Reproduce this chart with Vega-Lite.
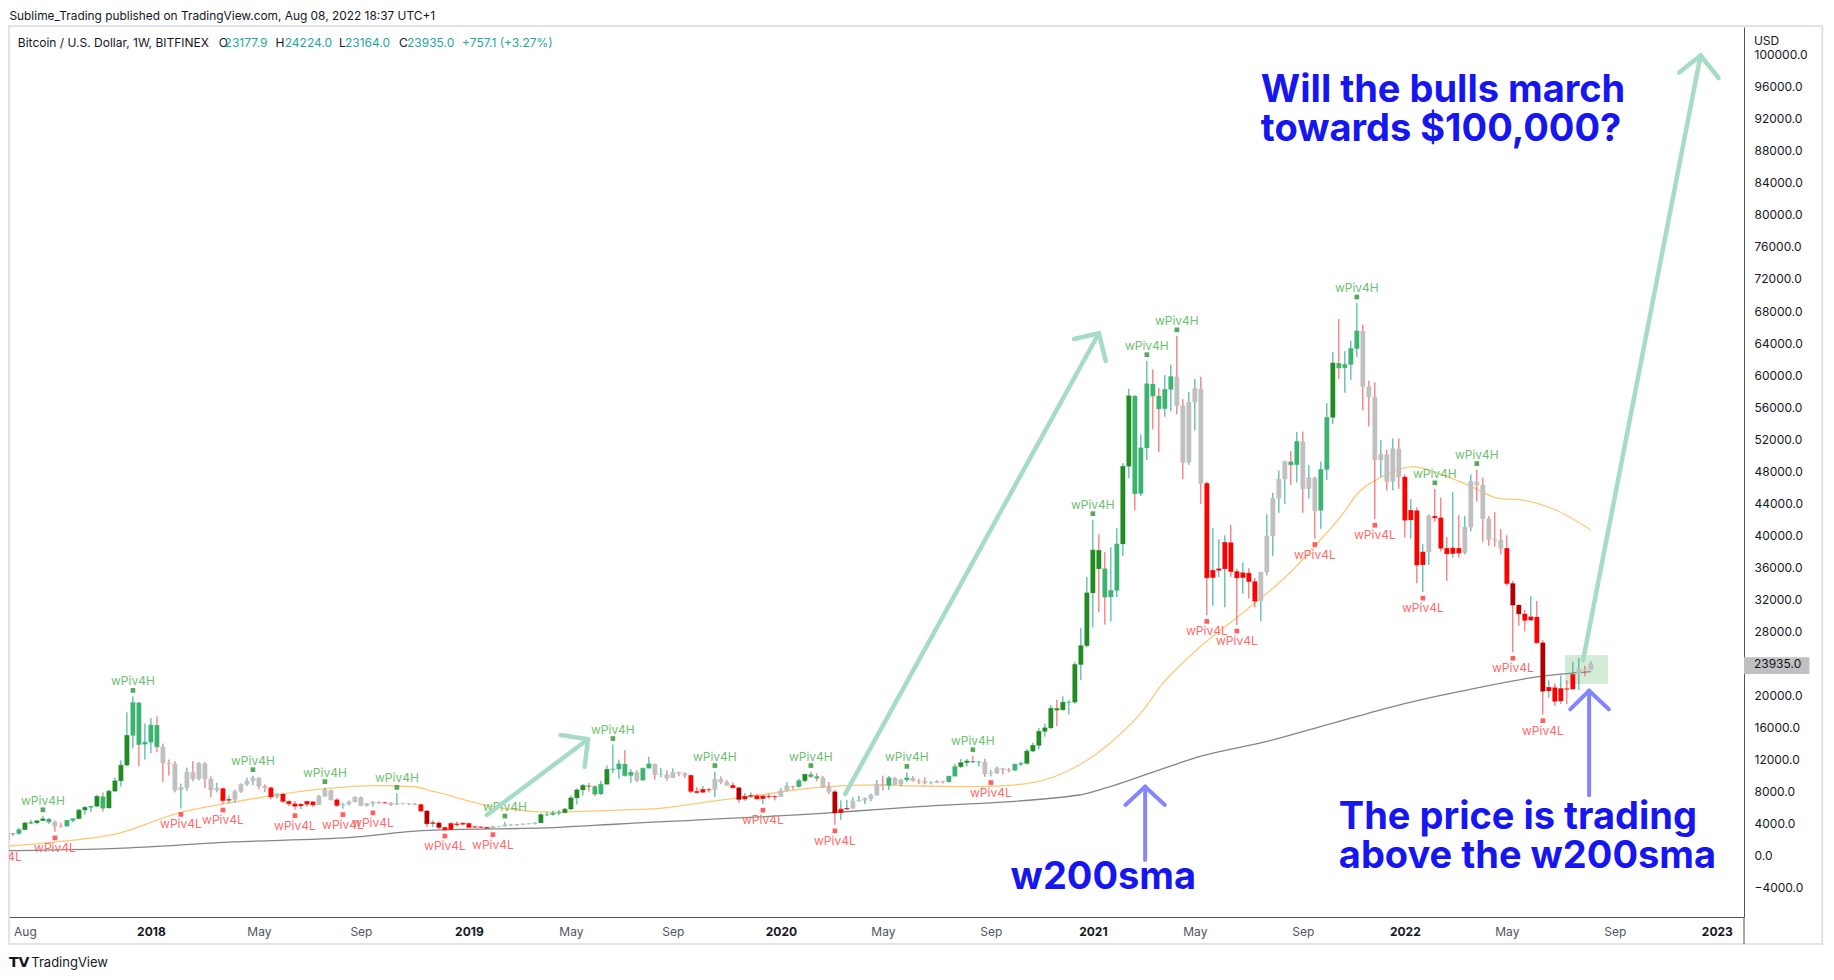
{
"$schema":"https://vega.github.io/schema/vega-lite/v6.json",
"width":1735,"height":890,"autosize":"none",
"padding":{"left":9,"top":27,"right":90,"bottom":63},
"background":"#ffffff",
"config":{"view":{"stroke":null},"font":"Inter"},
"datasets":{
"candles":[
{"d":"2017-07-10","o":2500,"h":2550,"l":1830,"c":1930,"t":"r","p":"L"},
{"d":"2017-07-17","o":1930,"h":2920,"l":1900,"c":2750,"t":"g"},
{"d":"2017-07-24","o":2750,"h":2840,"l":2450,"c":2740,"t":"g"},
{"d":"2017-07-31","o":2740,"h":3490,"l":2620,"c":3230,"t":"g"},
{"d":"2017-08-07","o":3230,"h":4200,"l":3200,"c":4070,"t":"sg"},
{"d":"2017-08-14","o":4070,"h":4480,"l":3960,"c":4100,"t":"sg"},
{"d":"2017-08-21","o":4100,"h":4380,"l":3900,"c":4350,"t":"sg"},
{"d":"2017-08-28","o":4350,"h":4980,"l":4300,"c":4590,"t":"sg","p":"H"},
{"d":"2017-09-04","o":4590,"h":4700,"l":3960,"c":4230,"t":"g"},
{"d":"2017-09-11","o":4230,"h":4400,"l":2970,"c":3700,"t":"n","p":"L"},
{"d":"2017-09-18","o":3700,"h":4120,"l":3500,"c":3670,"t":"n"},
{"d":"2017-09-25","o":3670,"h":4400,"l":3650,"c":4390,"t":"g"},
{"d":"2017-10-02","o":4390,"h":4650,"l":4150,"c":4610,"t":"g"},
{"d":"2017-10-09","o":4610,"h":5860,"l":4560,"c":5680,"t":"sg"},
{"d":"2017-10-16","o":5680,"h":6200,"l":5110,"c":6010,"t":"sg"},
{"d":"2017-10-23","o":6010,"h":6200,"l":5400,"c":6150,"t":"g"},
{"d":"2017-10-30","o":6150,"h":7600,"l":6100,"c":7390,"t":"sg"},
{"d":"2017-11-06","o":7390,"h":7900,"l":5500,"c":5950,"t":"g"},
{"d":"2017-11-13","o":5950,"h":8250,"l":5850,"c":8040,"t":"sg"},
{"d":"2017-11-20","o":8040,"h":9750,"l":7950,"c":9330,"t":"sg"},
{"d":"2017-11-27","o":9330,"h":11900,"l":8650,"c":11290,"t":"sg"},
{"d":"2017-12-04","o":11290,"h":17900,"l":11150,"c":15000,"t":"sg"},
{"d":"2017-12-11","o":15000,"h":19890,"l":13400,"c":19100,"t":"g","p":"H"},
{"d":"2017-12-18","o":19100,"h":19200,"l":11150,"c":13900,"t":"g"},
{"d":"2017-12-25","o":13900,"h":16500,"l":12000,"c":14150,"t":"g"},
{"d":"2018-01-01","o":14150,"h":17200,"l":12800,"c":16300,"t":"g"},
{"d":"2018-01-08","o":16300,"h":17400,"l":12900,"c":13600,"t":"g"},
{"d":"2018-01-15","o":13600,"h":14000,"l":9200,"c":11600,"t":"n"},
{"d":"2018-01-22","o":11600,"h":12000,"l":10000,"c":11500,"t":"n"},
{"d":"2018-01-29","o":11500,"h":11800,"l":7900,"c":8200,"t":"n"},
{"d":"2018-02-05","o":8200,"h":9000,"l":5900,"c":8500,"t":"n","p":"L"},
{"d":"2018-02-12","o":8500,"h":11000,"l":8100,"c":10400,"t":"n"},
{"d":"2018-02-19","o":10400,"h":11800,"l":9300,"c":9600,"t":"n"},
{"d":"2018-02-26","o":9600,"h":11700,"l":9400,"c":11500,"t":"n"},
{"d":"2018-03-05","o":11500,"h":11700,"l":8400,"c":9600,"t":"n"},
{"d":"2018-03-12","o":9600,"h":9900,"l":7300,"c":8200,"t":"n"},
{"d":"2018-03-19","o":8200,"h":9100,"l":7900,"c":8400,"t":"n"},
{"d":"2018-03-26","o":8400,"h":8500,"l":6450,"c":6900,"t":"r","p":"L"},
{"d":"2018-04-02","o":6900,"h":7500,"l":6500,"c":7000,"t":"r"},
{"d":"2018-04-09","o":7000,"h":8250,"l":6600,"c":8000,"t":"n"},
{"d":"2018-04-16","o":8000,"h":9000,"l":7850,"c":8900,"t":"n"},
{"d":"2018-04-23","o":8900,"h":9750,"l":8700,"c":9300,"t":"n"},
{"d":"2018-04-30","o":9300,"h":9990,"l":8800,"c":9700,"t":"n","p":"H"},
{"d":"2018-05-07","o":9700,"h":9800,"l":8300,"c":8700,"t":"n"},
{"d":"2018-05-14","o":8700,"h":8900,"l":7950,"c":8500,"t":"n"},
{"d":"2018-05-21","o":8500,"h":8600,"l":7050,"c":7350,"t":"r"},
{"d":"2018-05-28","o":7350,"h":7800,"l":7100,"c":7700,"t":"n"},
{"d":"2018-06-04","o":7700,"h":7800,"l":6600,"c":6800,"t":"r"},
{"d":"2018-06-11","o":6800,"h":6900,"l":6200,"c":6500,"t":"r"},
{"d":"2018-06-18","o":6500,"h":6850,"l":5750,"c":6200,"t":"r","p":"L"},
{"d":"2018-06-25","o":6200,"h":6550,"l":5800,"c":6400,"t":"r"},
{"d":"2018-07-02","o":6400,"h":6850,"l":6100,"c":6750,"t":"r"},
{"d":"2018-07-09","o":6750,"h":6800,"l":6100,"c":6350,"t":"r"},
{"d":"2018-07-16","o":6350,"h":7600,"l":6300,"c":7400,"t":"n"},
{"d":"2018-07-23","o":7400,"h":8500,"l":7350,"c":8200,"t":"n","p":"H"},
{"d":"2018-07-30","o":8200,"h":8250,"l":6900,"c":7000,"t":"n"},
{"d":"2018-08-06","o":7000,"h":7150,"l":6100,"c":6300,"t":"r"},
{"d":"2018-08-13","o":6300,"h":6600,"l":5880,"c":6400,"t":"n","p":"L"},
{"d":"2018-08-20","o":6400,"h":6900,"l":6250,"c":6700,"t":"n"},
{"d":"2018-08-27","o":6700,"h":7400,"l":6650,"c":7300,"t":"n"},
{"d":"2018-09-03","o":7300,"h":7400,"l":6200,"c":6250,"t":"n"},
{"d":"2018-09-10","o":6250,"h":6600,"l":6150,"c":6500,"t":"n"},
{"d":"2018-09-17","o":6500,"h":6800,"l":6100,"c":6700,"t":"n","p":"L"},
{"d":"2018-09-24","o":6700,"h":6800,"l":6450,"c":6620,"t":"n"},
{"d":"2018-10-01","o":6620,"h":6700,"l":6500,"c":6600,"t":"r"},
{"d":"2018-10-08","o":6600,"h":6700,"l":6200,"c":6400,"t":"n"},
{"d":"2018-10-15","o":6400,"h":7780,"l":6300,"c":6500,"t":"n","p":"H"},
{"d":"2018-10-22","o":6500,"h":6600,"l":6400,"c":6500,"t":"n"},
{"d":"2018-10-29","o":6500,"h":6550,"l":6300,"c":6450,"t":"n"},
{"d":"2018-11-05","o":6450,"h":6600,"l":6300,"c":6400,"t":"n"},
{"d":"2018-11-12","o":6400,"h":6500,"l":5500,"c":5600,"t":"r"},
{"d":"2018-11-19","o":5600,"h":5700,"l":3600,"c":4000,"t":"sr"},
{"d":"2018-11-26","o":4000,"h":4400,"l":3600,"c":4100,"t":"r"},
{"d":"2018-12-03","o":4100,"h":4300,"l":3300,"c":3550,"t":"sr"},
{"d":"2018-12-10","o":3550,"h":3600,"l":3200,"c":3250,"t":"r","p":"L"},
{"d":"2018-12-17","o":3250,"h":4200,"l":3250,"c":4000,"t":"r"},
{"d":"2018-12-24","o":4000,"h":4250,"l":3650,"c":3900,"t":"r"},
{"d":"2018-12-31","o":3900,"h":4150,"l":3750,"c":4050,"t":"r"},
{"d":"2019-01-07","o":4050,"h":4100,"l":3500,"c":3550,"t":"r"},
{"d":"2019-01-14","o":3550,"h":3700,"l":3500,"c":3600,"t":"r"},
{"d":"2019-01-21","o":3600,"h":3650,"l":3500,"c":3550,"t":"r"},
{"d":"2019-01-28","o":3550,"h":3600,"l":3400,"c":3450,"t":"r"},
{"d":"2019-02-04","o":3450,"h":3700,"l":3380,"c":3650,"t":"n","p":"L"},
{"d":"2019-02-11","o":3650,"h":3700,"l":3550,"c":3650,"t":"n"},
{"d":"2019-02-18","o":3650,"h":4200,"l":3650,"c":3850,"t":"n","p":"H"},
{"d":"2019-02-25","o":3850,"h":3950,"l":3700,"c":3850,"t":"n"},
{"d":"2019-03-04","o":3850,"h":3950,"l":3700,"c":3900,"t":"n"},
{"d":"2019-03-11","o":3900,"h":4000,"l":3800,"c":3950,"t":"n"},
{"d":"2019-03-18","o":3950,"h":4100,"l":3900,"c":4000,"t":"n"},
{"d":"2019-03-25","o":4000,"h":4150,"l":3900,"c":4100,"t":"n"},
{"d":"2019-04-01","o":4100,"h":5300,"l":4100,"c":5100,"t":"sg"},
{"d":"2019-04-08","o":5100,"h":5450,"l":4950,"c":5100,"t":"g"},
{"d":"2019-04-15","o":5100,"h":5600,"l":5000,"c":5300,"t":"g"},
{"d":"2019-04-22","o":5300,"h":5700,"l":5050,"c":5350,"t":"g"},
{"d":"2019-04-29","o":5350,"h":5950,"l":5350,"c":5800,"t":"sg"},
{"d":"2019-05-06","o":5800,"h":7500,"l":5700,"c":7200,"t":"sg"},
{"d":"2019-05-13","o":7200,"h":8400,"l":6400,"c":8200,"t":"sg"},
{"d":"2019-05-20","o":8200,"h":8950,"l":7500,"c":8750,"t":"sg"},
{"d":"2019-05-27","o":8750,"h":9100,"l":8000,"c":8650,"t":"g"},
{"d":"2019-06-03","o":8650,"h":8800,"l":7450,"c":7700,"t":"g"},
{"d":"2019-06-10","o":7700,"h":9350,"l":7550,"c":8900,"t":"g"},
{"d":"2019-06-17","o":8900,"h":11250,"l":8900,"c":10750,"t":"sg"},
{"d":"2019-06-24","o":10750,"h":13880,"l":10300,"c":10800,"t":"g","p":"H"},
{"d":"2019-07-01","o":10800,"h":12000,"l":9600,"c":11450,"t":"g"},
{"d":"2019-07-08","o":11450,"h":13200,"l":9900,"c":10000,"t":"g"},
{"d":"2019-07-15","o":10000,"h":10800,"l":9100,"c":10400,"t":"g"},
{"d":"2019-07-22","o":10400,"h":10650,"l":9200,"c":9400,"t":"n"},
{"d":"2019-07-29","o":9400,"h":11000,"l":9400,"c":10900,"t":"g"},
{"d":"2019-08-05","o":10900,"h":12350,"l":10900,"c":11450,"t":"g"},
{"d":"2019-08-12","o":11450,"h":11500,"l":9500,"c":10150,"t":"n"},
{"d":"2019-08-19","o":10150,"h":10950,"l":9800,"c":10150,"t":"n"},
{"d":"2019-08-26","o":10150,"h":10650,"l":9350,"c":9700,"t":"n"},
{"d":"2019-09-02","o":9700,"h":10900,"l":9700,"c":10400,"t":"n"},
{"d":"2019-09-09","o":10400,"h":10500,"l":9900,"c":10300,"t":"n"},
{"d":"2019-09-16","o":10300,"h":10400,"l":9700,"c":10050,"t":"n"},
{"d":"2019-09-23","o":10050,"h":10100,"l":7800,"c":8050,"t":"r"},
{"d":"2019-09-30","o":8050,"h":8550,"l":7750,"c":7900,"t":"r"},
{"d":"2019-10-07","o":7900,"h":8700,"l":7800,"c":8250,"t":"r"},
{"d":"2019-10-14","o":8250,"h":8450,"l":7900,"c":8230,"t":"r"},
{"d":"2019-10-21","o":8230,"h":10500,"l":7300,"c":9550,"t":"n","p":"H"},
{"d":"2019-10-28","o":9550,"h":9900,"l":8950,"c":9200,"t":"n"},
{"d":"2019-11-04","o":9200,"h":9450,"l":8700,"c":8800,"t":"n"},
{"d":"2019-11-11","o":8800,"h":9150,"l":8400,"c":8500,"t":"r"},
{"d":"2019-11-18","o":8500,"h":8600,"l":6600,"c":7050,"t":"sr"},
{"d":"2019-11-25","o":7050,"h":7800,"l":6850,"c":7400,"t":"r"},
{"d":"2019-12-02","o":7400,"h":7900,"l":7200,"c":7500,"t":"r"},
{"d":"2019-12-09","o":7500,"h":7650,"l":7050,"c":7100,"t":"r"},
{"d":"2019-12-16","o":7100,"h":7500,"l":6430,"c":7450,"t":"r","p":"L"},
{"d":"2019-12-23","o":7450,"h":7700,"l":7100,"c":7400,"t":"r"},
{"d":"2019-12-30","o":7400,"h":7550,"l":6900,"c":7350,"t":"r"},
{"d":"2020-01-06","o":7350,"h":8450,"l":7350,"c":8100,"t":"n"},
{"d":"2020-01-13","o":8100,"h":9200,"l":8050,"c":8700,"t":"n"},
{"d":"2020-01-20","o":8700,"h":8750,"l":8250,"c":8600,"t":"n"},
{"d":"2020-01-27","o":8600,"h":9600,"l":8500,"c":9350,"t":"g"},
{"d":"2020-02-03","o":9350,"h":10200,"l":9150,"c":10150,"t":"sg"},
{"d":"2020-02-10","o":10150,"h":10500,"l":9700,"c":9900,"t":"g","p":"H"},
{"d":"2020-02-17","o":9900,"h":10300,"l":9300,"c":9700,"t":"g"},
{"d":"2020-02-24","o":9700,"h":9950,"l":8450,"c":8550,"t":"n"},
{"d":"2020-03-02","o":8550,"h":9200,"l":7700,"c":8000,"t":"n"},
{"d":"2020-03-09","o":8000,"h":8200,"l":3850,"c":5350,"t":"sr","p":"L"},
{"d":"2020-03-16","o":5350,"h":6900,"l":4450,"c":5800,"t":"r"},
{"d":"2020-03-23","o":5800,"h":6950,"l":5700,"c":5900,"t":"r"},
{"d":"2020-03-30","o":5900,"h":7300,"l":5850,"c":6800,"t":"n"},
{"d":"2020-04-06","o":6800,"h":7450,"l":6750,"c":6900,"t":"n"},
{"d":"2020-04-13","o":6900,"h":7300,"l":6450,"c":7100,"t":"n"},
{"d":"2020-04-20","o":7100,"h":7750,"l":6800,"c":7550,"t":"n"},
{"d":"2020-04-27","o":7550,"h":9450,"l":7500,"c":8900,"t":"n"},
{"d":"2020-05-04","o":8900,"h":10000,"l":8150,"c":8750,"t":"n"},
{"d":"2020-05-11","o":8750,"h":9950,"l":8200,"c":9700,"t":"g"},
{"d":"2020-05-18","o":9700,"h":9850,"l":8850,"c":8900,"t":"n"},
{"d":"2020-05-25","o":8900,"h":9600,"l":8650,"c":9450,"t":"n"},
{"d":"2020-06-01","o":9450,"h":10400,"l":9200,"c":9700,"t":"g","p":"H"},
{"d":"2020-06-08","o":9700,"h":9950,"l":9250,"c":9350,"t":"n"},
{"d":"2020-06-15","o":9350,"h":9600,"l":8950,"c":9300,"t":"n"},
{"d":"2020-06-22","o":9300,"h":9800,"l":8900,"c":9100,"t":"n"},
{"d":"2020-06-29","o":9100,"h":9300,"l":8900,"c":9100,"t":"n"},
{"d":"2020-07-06","o":9100,"h":9450,"l":9050,"c":9250,"t":"n"},
{"d":"2020-07-13","o":9250,"h":9350,"l":9000,"c":9200,"t":"n"},
{"d":"2020-07-20","o":9200,"h":10000,"l":9150,"c":9900,"t":"g"},
{"d":"2020-07-27","o":9900,"h":11450,"l":9900,"c":11100,"t":"g"},
{"d":"2020-08-03","o":11100,"h":12100,"l":10950,"c":11600,"t":"sg"},
{"d":"2020-08-10","o":11600,"h":12100,"l":11150,"c":11800,"t":"sg"},
{"d":"2020-08-17","o":11800,"h":12480,"l":11600,"c":11700,"t":"g","p":"H"},
{"d":"2020-08-24","o":11700,"h":11800,"l":11150,"c":11700,"t":"g"},
{"d":"2020-08-31","o":11700,"h":12100,"l":9850,"c":10250,"t":"n"},
{"d":"2020-09-07","o":10250,"h":10700,"l":9880,"c":10300,"t":"n","p":"L"},
{"d":"2020-09-14","o":10300,"h":11150,"l":10200,"c":10900,"t":"n"},
{"d":"2020-09-21","o":10900,"h":10950,"l":10150,"c":10750,"t":"n"},
{"d":"2020-09-28","o":10750,"h":10950,"l":10400,"c":10650,"t":"n"},
{"d":"2020-10-05","o":10650,"h":11500,"l":10550,"c":11400,"t":"g"},
{"d":"2020-10-12","o":11400,"h":11750,"l":11200,"c":11500,"t":"g"},
{"d":"2020-10-19","o":11500,"h":13300,"l":11400,"c":13050,"t":"sg"},
{"d":"2020-10-26","o":13050,"h":14100,"l":12950,"c":13750,"t":"sg"},
{"d":"2020-11-02","o":13750,"h":15950,"l":13250,"c":15500,"t":"sg"},
{"d":"2020-11-09","o":15500,"h":16500,"l":14850,"c":15950,"t":"sg"},
{"d":"2020-11-16","o":15950,"h":18800,"l":15800,"c":18400,"t":"sg"},
{"d":"2020-11-23","o":18400,"h":19450,"l":16200,"c":18200,"t":"sg"},
{"d":"2020-11-30","o":18200,"h":19900,"l":18100,"c":19150,"t":"sg"},
{"d":"2020-12-07","o":19150,"h":19450,"l":17600,"c":19150,"t":"g"},
{"d":"2020-12-14","o":19150,"h":24200,"l":19000,"c":23850,"t":"sg"},
{"d":"2020-12-21","o":23850,"h":28400,"l":21900,"c":26200,"t":"sg"},
{"d":"2020-12-28","o":26200,"h":34800,"l":26000,"c":32800,"t":"sg"},
{"d":"2021-01-04","o":32800,"h":41950,"l":28500,"c":38150,"t":"sg","p":"H"},
{"d":"2021-01-11","o":38150,"h":40100,"l":30400,"c":35850,"t":"sg"},
{"d":"2021-01-18","o":35850,"h":37900,"l":28850,"c":32300,"t":"g"},
{"d":"2021-01-25","o":32300,"h":38500,"l":29250,"c":33100,"t":"g"},
{"d":"2021-02-01","o":33100,"h":40900,"l":32300,"c":38900,"t":"g"},
{"d":"2021-02-08","o":38900,"h":49000,"l":37400,"c":48600,"t":"sg"},
{"d":"2021-02-15","o":48600,"h":58300,"l":47100,"c":57400,"t":"sg"},
{"d":"2021-02-22","o":57400,"h":57500,"l":43100,"c":45200,"t":"g"},
{"d":"2021-03-01","o":45200,"h":52600,"l":44900,"c":50900,"t":"g"},
{"d":"2021-03-08","o":50900,"h":61800,"l":49400,"c":58900,"t":"g","p":"H"},
{"d":"2021-03-15","o":58900,"h":60700,"l":53200,"c":57400,"t":"g"},
{"d":"2021-03-22","o":57400,"h":58400,"l":50400,"c":55800,"t":"g"},
{"d":"2021-03-29","o":55800,"h":60000,"l":54800,"c":58200,"t":"g"},
{"d":"2021-04-05","o":58200,"h":61300,"l":55500,"c":59800,"t":"g"},
{"d":"2021-04-12","o":59800,"h":64900,"l":55100,"c":56200,"t":"n","p":"H"},
{"d":"2021-04-19","o":56200,"h":57000,"l":47000,"c":49100,"t":"n"},
{"d":"2021-04-26","o":49100,"h":57900,"l":48800,"c":56600,"t":"n"},
{"d":"2021-05-03","o":56600,"h":59500,"l":53100,"c":58300,"t":"n"},
{"d":"2021-05-10","o":58300,"h":59800,"l":43900,"c":46500,"t":"n"},
{"d":"2021-05-17","o":46500,"h":46700,"l":30000,"c":34700,"t":"r","p":"L"},
{"d":"2021-05-24","o":34700,"h":40900,"l":31200,"c":35600,"t":"r"},
{"d":"2021-05-31","o":35600,"h":39500,"l":34800,"c":35800,"t":"r"},
{"d":"2021-06-07","o":35800,"h":40000,"l":31000,"c":39100,"t":"r"},
{"d":"2021-06-14","o":39100,"h":41300,"l":34800,"c":35500,"t":"r"},
{"d":"2021-06-21","o":35500,"h":35800,"l":28800,"c":34700,"t":"r","p":"L"},
{"d":"2021-06-28","o":34700,"h":36600,"l":32700,"c":35300,"t":"r"},
{"d":"2021-07-05","o":35300,"h":35900,"l":32100,"c":34250,"t":"r"},
{"d":"2021-07-12","o":34250,"h":34700,"l":31000,"c":31800,"t":"r"},
{"d":"2021-07-19","o":31800,"h":35400,"l":29300,"c":35400,"t":"n"},
{"d":"2021-07-26","o":35400,"h":42600,"l":35000,"c":39900,"t":"n"},
{"d":"2021-08-02","o":39900,"h":45300,"l":37400,"c":44600,"t":"n"},
{"d":"2021-08-09","o":44600,"h":48100,"l":42800,"c":47000,"t":"n"},
{"d":"2021-08-16","o":47000,"h":49300,"l":43900,"c":49200,"t":"n"},
{"d":"2021-08-23","o":49200,"h":50500,"l":46300,"c":48800,"t":"g"},
{"d":"2021-08-30","o":48800,"h":52900,"l":46600,"c":51700,"t":"g"},
{"d":"2021-09-06","o":51700,"h":52950,"l":42800,"c":45800,"t":"n"},
{"d":"2021-09-13","o":45800,"h":48800,"l":44600,"c":47200,"t":"n"},
{"d":"2021-09-20","o":47200,"h":47300,"l":39600,"c":43100,"t":"n","p":"L"},
{"d":"2021-09-27","o":43100,"h":49200,"l":40800,"c":48200,"t":"g"},
{"d":"2021-10-04","o":48200,"h":56500,"l":46900,"c":54700,"t":"g"},
{"d":"2021-10-11","o":54700,"h":62900,"l":53900,"c":61500,"t":"sg"},
{"d":"2021-10-18","o":61500,"h":67000,"l":59500,"c":60900,"t":"g"},
{"d":"2021-10-25","o":60900,"h":63000,"l":57800,"c":61300,"t":"g"},
{"d":"2021-11-01","o":61300,"h":64300,"l":59400,"c":63300,"t":"g"},
{"d":"2021-11-08","o":63300,"h":69000,"l":62300,"c":65500,"t":"g","p":"H"},
{"d":"2021-11-15","o":65500,"h":66300,"l":55600,"c":58600,"t":"n"},
{"d":"2021-11-22","o":58600,"h":59300,"l":53600,"c":57300,"t":"n"},
{"d":"2021-11-29","o":57300,"h":59100,"l":42000,"c":49400,"t":"n","p":"L"},
{"d":"2021-12-06","o":49400,"h":51900,"l":47300,"c":50100,"t":"n"},
{"d":"2021-12-13","o":50100,"h":50700,"l":45600,"c":46700,"t":"n"},
{"d":"2021-12-20","o":46700,"h":52100,"l":45600,"c":50800,"t":"n"},
{"d":"2021-12-27","o":50800,"h":52100,"l":45800,"c":47300,"t":"n"},
{"d":"2022-01-03","o":47300,"h":47600,"l":39700,"c":41900,"t":"r"},
{"d":"2022-01-10","o":41900,"h":44500,"l":39600,"c":43100,"t":"r"},
{"d":"2022-01-17","o":43100,"h":43500,"l":34000,"c":36300,"t":"r"},
{"d":"2022-01-24","o":36300,"h":38900,"l":32900,"c":37900,"t":"r","p":"L"},
{"d":"2022-01-31","o":37900,"h":42600,"l":36300,"c":42400,"t":"n"},
{"d":"2022-02-07","o":42400,"h":45800,"l":41700,"c":42200,"t":"r","p":"H"},
{"d":"2022-02-14","o":42200,"h":44700,"l":38000,"c":38400,"t":"r"},
{"d":"2022-02-21","o":38400,"h":39800,"l":34300,"c":37700,"t":"r"},
{"d":"2022-02-28","o":37700,"h":45400,"l":37200,"c":38400,"t":"r"},
{"d":"2022-03-07","o":38400,"h":42500,"l":37200,"c":37800,"t":"r"},
{"d":"2022-03-14","o":37800,"h":42400,"l":37600,"c":41000,"t":"n"},
{"d":"2022-03-21","o":41000,"h":47600,"l":40500,"c":46700,"t":"n"},
{"d":"2022-03-28","o":46700,"h":48200,"l":44200,"c":46300,"t":"n","p":"H"},
{"d":"2022-04-04","o":46300,"h":47200,"l":39200,"c":42100,"t":"n"},
{"d":"2022-04-11","o":42100,"h":42400,"l":38700,"c":39500,"t":"n"},
{"d":"2022-04-18","o":39500,"h":42900,"l":38600,"c":39400,"t":"n"},
{"d":"2022-04-25","o":39400,"h":40800,"l":37600,"c":38400,"t":"n"},
{"d":"2022-05-02","o":38400,"h":40000,"l":33700,"c":34000,"t":"r"},
{"d":"2022-05-09","o":34000,"h":34300,"l":25400,"c":31300,"t":"sr","p":"L"},
{"d":"2022-05-16","o":31300,"h":31400,"l":28700,"c":30200,"t":"sr"},
{"d":"2022-05-23","o":30200,"h":30700,"l":28000,"c":29400,"t":"r"},
{"d":"2022-05-30","o":29400,"h":32400,"l":29300,"c":29800,"t":"r"},
{"d":"2022-06-06","o":29800,"h":31800,"l":26500,"c":26600,"t":"r"},
{"d":"2022-06-13","o":26600,"h":26900,"l":17600,"c":20550,"t":"sr","p":"L"},
{"d":"2022-06-20","o":20550,"h":21900,"l":19700,"c":21000,"t":"r"},
{"d":"2022-06-27","o":21000,"h":21500,"l":18700,"c":19300,"t":"r"},
{"d":"2022-07-04","o":19300,"h":22500,"l":18950,"c":20850,"t":"r"},
{"d":"2022-07-11","o":20850,"h":21900,"l":18900,"c":20800,"t":"r"},
{"d":"2022-07-18","o":20800,"h":24200,"l":20700,"c":22600,"t":"r"},
{"d":"2022-07-25","o":22600,"h":24700,"l":20700,"c":23300,"t":"n"},
{"d":"2022-08-01","o":23300,"h":23700,"l":22400,"c":23180,"t":"n"},
{"d":"2022-08-08","o":23177.9,"h":24224,"l":23164,"c":23935,"t":"n"}
],
"sma50":[
{"d":"2017-07-05","v":1100},{"d":"2017-07-20","v":1210},{"d":"2017-09-15","v":1750},{"d":"2017-11-24","v":2790},{"d":"2018-02-01","v":5290},{"d":"2018-04-11","v":6740},{"d":"2018-05-27","v":7580},{"d":"2018-07-21","v":8330},{"d":"2018-09-20","v":8740},{"d":"2018-11-04","v":8610},{"d":"2018-11-28","v":7990},{"d":"2019-02-04","v":6120},{"d":"2019-04-15","v":5450},{"d":"2019-07-01","v":5700},{"d":"2019-08-17","v":5910},{"d":"2019-10-14","v":6740},{"d":"2019-12-12","v":7580},{"d":"2020-02-19","v":8540},{"d":"2020-04-30","v":8830},{"d":"2020-06-15","v":8700},{"d":"2020-08-24","v":8620},{"d":"2020-10-21","v":9040},{"d":"2020-12-19","v":11320},{"d":"2021-01-26","v":14230},{"d":"2021-03-07","v":18600},{"d":"2021-03-22","v":20900},{"d":"2021-05-05","v":25680},{"d":"2021-07-02","v":30670},{"d":"2021-08-29","v":36080},{"d":"2021-09-10","v":37500},{"d":"2021-10-26","v":43160},{"d":"2021-11-07","v":45000},{"d":"2021-12-04","v":47120},{"d":"2021-12-16","v":47740},{"d":"2022-01-12","v":48570},{"d":"2022-02-12","v":47700},{"d":"2022-03-22","v":46070},{"d":"2022-04-22","v":44620},{"d":"2022-05-19","v":44410},{"d":"2022-06-28","v":43160},{"d":"2022-08-08","v":40660}
],
"sma200":[
{"d":"2017-07-05","v":590},{"d":"2017-07-20","v":625},{"d":"2017-11-23","v":920},{"d":"2018-04-07","v":1720},{"d":"2018-08-22","v":2280},{"d":"2018-11-14","v":3120},{"d":"2019-04-22","v":3540},{"d":"2019-07-01","v":3960},{"d":"2020-03-06","v":5370},{"d":"2020-04-30","v":5790},{"d":"2020-06-15","v":6120},{"d":"2020-12-19","v":7580},{"d":"2021-01-11","v":8200},{"d":"2021-04-14","v":11540},{"d":"2021-05-08","v":12360},{"d":"2021-07-25","v":14230},{"d":"2021-10-10","v":16530},{"d":"2021-12-27","v":18810},{"d":"2022-03-07","v":20470},{"d":"2022-06-08","v":22350},{"d":"2022-08-08","v":22970}
],
"arrows":[
{"k":"g","d":"2019-01-28","v":5080,"d2":"2019-05-26","v2":14530},
{"k":"g","d":"2019-04-24","v":15070,"d2":"2019-05-26","v2":14530},
{"k":"g","d":"2019-05-22","v":11110,"d2":"2019-05-26","v2":14530},
{"k":"g","d":"2020-03-21","v":7700,"d2":"2021-01-11","v2":65220},
{"k":"g","d":"2020-12-13","v":64510,"d2":"2021-01-11","v2":65220},
{"k":"g","d":"2021-01-19","v":61760,"d2":"2021-01-11","v2":65220},
{"k":"g","d":"2022-07-30","v":24430,"d2":"2022-12-14","v2":99900},
{"k":"g","d":"2022-11-19","v":97780,"d2":"2022-12-14","v2":99900},
{"k":"g","d":"2023-01-04","v":97090,"d2":"2022-12-14","v2":99900},
{"k":"b","d":"2021-03-06","v":-540,"d2":"2021-03-06","v2":8610},
{"k":"b","d":"2021-02-11","v":6330,"d2":"2021-03-06","v2":8610},
{"k":"b","d":"2021-03-29","v":6330,"d2":"2021-03-06","v2":8610},
{"k":"b","d":"2022-08-06","v":7540,"d2":"2022-08-06","v2":20600},
{"k":"b","d":"2022-07-15","v":18280,"d2":"2022-08-06","v2":20600},
{"k":"b","d":"2022-08-29","v":18280,"d2":"2022-08-06","v2":20600}
],
"notes":[
{"d":"2021-07-19","v":95455,"txt":["Will the bulls march","towards $100,000?"]},
{"d":"2020-09-30","v":-2785,"txt":["w200sma"]},
{"d":"2021-10-18","v":4705,"txt":["The price is trading","above the w200sma"]}
],
"hdr":[
{"k":"dark","d":"2017-07-29T17:00:00Z","v":101420,"txt":"Bitcoin / U.S. Dollar, 1W, BITFINEX"},
{"k":"dark","d":"2018-03-21T02:00:00Z","v":101420,"txt":"O"},
{"k":"teal","d":"2018-03-27T23:00:00Z","v":101420,"txt":"23177.9"},
{"k":"dark","d":"2018-05-26T11:00:00Z","v":101420,"txt":"H"},
{"k":"teal","d":"2018-06-06T02:00:00Z","v":101420,"txt":"24224.0"},
{"k":"dark","d":"2018-08-08T10:00:00Z","v":101420,"txt":"L"},
{"k":"teal","d":"2018-08-15T10:00:00Z","v":101420,"txt":"23164.0"},
{"k":"dark","d":"2018-10-17T10:00:00Z","v":101420,"txt":"C"},
{"k":"teal","d":"2018-10-26T19:00:00Z","v":101420,"txt":"23935.0"},
{"k":"teal","d":"2018-12-30T00:00:00Z","v":101420,"txt":"+757.1 (+3.27%)"},
{"k":"title","d":"2017-07-19T22:00:00Z","v":104870,"txt":"Sublime_Trading published on TradingView.com, Aug 08, 2022 18:37 UTC+1"},
{"k":"foot","d":"2017-08-14T10:00:00Z","v":-13395,"txt":"TradingView"},
{"k":"logo","d":"2017-07-19T12:00:00Z","v":-13395,"txt":"TV"},
{"k":"axis","d":"2023-02-14T07:00:00Z","v":101750,"txt":"USD"},
{"k":"axis","d":"2023-02-14T07:00:00Z","v":23935,"txt":"23935.0"}
]
},
"encoding":{
"x":{"field":"d","type":"temporal","title":null,
 "scale":{"type":"utc","padding":0,"domain":[{"year":2017,"month":7,"date":19,"hours":10,"utc":true},{"year":2023,"month":2,"date":2,"hours":17,"utc":true}]},
 "axis":{"values":[{"year":2017,"month":8,"date":7,"utc":true},{"year":2018,"month":1,"date":1,"utc":true},{"year":2018,"month":5,"date":7,"utc":true},{"year":2018,"month":9,"date":3,"utc":true},{"year":2019,"month":1,"date":7,"utc":true},{"year":2019,"month":5,"date":6,"utc":true},{"year":2019,"month":9,"date":2,"utc":true},{"year":2020,"month":1,"date":6,"utc":true},{"year":2020,"month":5,"date":4,"utc":true},{"year":2020,"month":9,"date":7,"utc":true},{"year":2021,"month":1,"date":4,"utc":true},{"year":2021,"month":5,"date":3,"utc":true},{"year":2021,"month":9,"date":6,"utc":true},{"year":2022,"month":1,"date":3,"utc":true},{"year":2022,"month":5,"date":2,"utc":true},{"year":2022,"month":9,"date":5,"utc":true},{"year":2023,"month":1,"date":2,"utc":true}],
  "labelExpr":"utcmonth(datum.value) == 0 ? utcFormat(datum.value, '%Y') : utcFormat(datum.value, '%b')",
  "labelFontWeight":{"condition":{"test":"utcmonth(datum.value) == 0","value":"bold"},"value":"normal"},
  "labelColor":{"condition":{"test":"utcmonth(datum.value) == 0","value":"#131722"},"value":"#50535e"},
  "grid":false,"ticks":false,"tickSize":0,"labelPadding":9,"domainColor":"#50535e","domainWidth":1,
  "labelFontSize":12,"labelFont":"Inter","labelOverlap":false,"labelFlush":false}},
"y":{"field":"v","type":"quantitative","title":null,
 "scale":{"domain":[-7653,103458],"nice":false,"zero":false,"padding":0},
 "axis":{"orient":"right","values":[-4000,0,4000,8000,12000,16000,20000,28000,32000,36000,40000,44000,48000,52000,56000,60000,64000,68000,72000,76000,80000,84000,88000,92000,96000,100000],
  "format":".1f","grid":false,"ticks":false,"tickSize":0,"labelPadding":10,"domainColor":"#50535e","domainWidth":1,
  "labelFontSize":12,"labelColor":"#131722","labelFont":"Inter","labelOverlap":false,"labelFlush":false,"labelAlign":"left","labelBaseline":"middle"}}
},
"layer":[
{"data":{"values":[{"d":"2017-07-19T10:00:00Z","v":103583,"d2":"2023-05-05T00:00:00Z","v2":-11024}]},
 "mark":{"type":"rect","filled":false,"stroke":"#e0e3eb","strokeWidth":2},
 "encoding":{"x2":{"field":"d2"},"y2":{"field":"v2"}}},
{"data":{"values":[{"d":"2022-07-09","v":25060,"d2":"2022-08-28","v2":21440}]},
 "mark":{"type":"rect","fill":"#d4ecd6"},
 "encoding":{"x2":{"field":"d2"},"y2":{"field":"v2"}}},
{"data":{"name":"sma200"},"mark":{"type":"line","color":"#858585","strokeWidth":1.3,"interpolate":"monotone","clip":true},"encoding":{}},
{"data":{"name":"sma50"},"mark":{"type":"line","color":"#ffc878","strokeWidth":1.3,"interpolate":"monotone","clip":true},"encoding":{}},
{"data":{"name":"candles"},"mark":{"type":"rule","strokeWidth":1,"clip":true},
 "encoding":{"y":{"field":"l","type":"quantitative","title":null},"y2":{"field":"h"},
  "color":{"condition":{"test":"datum.c >= datum.o","value":"#26a69a"},"value":"#ef5350"}}},
{"data":{"name":"candles"},"mark":{"type":"bar","size":4.8,"clip":true},
 "encoding":{"y":{"field":"o","type":"quantitative","title":null},"y2":{"field":"c"},
  "color":{"field":"t","type":"nominal","scale":{"domain":["sg","g","n","r","sr"],"range":["#228b22","#3cb371","#c0c0c0","#ff0000","#b20000"]},"legend":null}}},
{"data":{"name":"candles"},"mark":{"type":"tick","orient":"horizontal","size":4.8,"thickness":1,"clip":true},
 "encoding":{"y":{"field":"c","type":"quantitative","title":null},
  "color":{"field":"t","type":"nominal","legend":null}}},
{"data":{"name":"candles"},"transform":[{"filter":"datum.p == 'H'"}],
 "mark":{"type":"point","shape":"square","filled":true,"size":22,"color":"#43a047","opacity":0.9,"yOffset":-6,"clip":true},
 "encoding":{"y":{"field":"h","type":"quantitative","title":null}}},
{"data":{"name":"candles"},"transform":[{"filter":"datum.p == 'L'"}],
 "mark":{"type":"point","shape":"square","filled":true,"size":22,"color":"#ff4d4d","opacity":0.9,"yOffset":6,"clip":true},
 "encoding":{"y":{"field":"l","type":"quantitative","title":null}}},
{"data":{"name":"candles"},"transform":[{"filter":"datum.p == 'H'"}],
 "mark":{"type":"text","text":"wPiv4H","font":"Inter","fontSize":12,"color":"#6cbf6f","dy":-15,"baseline":"middle","clip":true},
 "encoding":{"y":{"field":"h","type":"quantitative","title":null}}},
{"data":{"name":"candles"},"transform":[{"filter":"datum.p == 'L'"}],
 "mark":{"type":"text","text":"wPiv4L","font":"Inter","fontSize":12,"color":"#ff6b6b","dy":16,"baseline":"middle","clip":true},
 "encoding":{"y":{"field":"l","type":"quantitative","title":null}}},
{"data":{"name":"arrows"},"transform":[{"filter":"datum.k == 'g'"}],
 "mark":{"type":"rule","color":"#a6dcc5","strokeWidth":4.5,"strokeCap":"round"},
 "encoding":{"x2":{"field":"d2"},"y2":{"field":"v2"}}},
{"data":{"name":"arrows"},"transform":[{"filter":"datum.k == 'b'"}],
 "mark":{"type":"rule","color":"#8585ff","strokeWidth":4,"strokeCap":"round"},
 "encoding":{"x2":{"field":"d2"},"y2":{"field":"v2"}}},
{"data":{"name":"notes"},
 "mark":{"type":"text","align":"left","baseline":"middle","font":"Inter","fontWeight":"bold","fontSize":38,"lineHeight":39,"color":"#1616f0"},
 "encoding":{"text":{"field":"txt"}}},
{"data":{"name":"hdr"},"transform":[{"filter":"datum.k == 'dark' || datum.k == 'teal'"}],
 "mark":{"type":"text","align":"left","baseline":"middle","font":"Inter","fontSize":12},
 "encoding":{"text":{"field":"txt"},"color":{"condition":{"test":"datum.k == 'teal'","value":"#26a69a"},"value":"#131722"}}},
{"data":{"name":"hdr"},"transform":[{"filter":"datum.k == 'title'"}],
 "mark":{"type":"text","align":"left","baseline":"middle","font":"Inter","fontSize":11.9,"color":"#131722"},
 "encoding":{"text":{"field":"txt"}}},
{"data":{"name":"hdr"},"transform":[{"filter":"datum.k == 'foot'"}],
 "mark":{"type":"text","align":"left","baseline":"middle","font":"Inter","fontSize":13,"color":"#131722"},
 "encoding":{"text":{"field":"txt"}}},
{"data":{"name":"hdr"},"transform":[{"filter":"datum.k == 'logo'"}],
 "mark":{"type":"text","align":"left","baseline":"middle","font":"DejaVu Sans","fontWeight":"bold","fontSize":14,"color":"#131722"},
 "encoding":{"text":{"field":"txt"}}},
{"data":{"values":[{"d":"2023-02-02T17:00:00Z","v":24770,"d2":"2023-04-20T00:00:00Z","v2":22680}]},
 "mark":{"type":"rect","fill":"#c0c0c0"},
 "encoding":{"x2":{"field":"d2"},"y2":{"field":"v2"}}},
{"data":{"name":"hdr"},"transform":[{"filter":"datum.k == 'axis'"}],
 "mark":{"type":"text","align":"left","baseline":"middle","font":"Inter","fontSize":12,"color":"#131722"},
 "encoding":{"text":{"field":"txt"}}},
{"data":{"values":[{"d":"2023-02-02T17:00:00Z","v":-7653,"v2":-11024}]},
 "mark":{"type":"rule","color":"#50535e","strokeWidth":1},
 "encoding":{"y2":{"field":"v2"}}}
]
}
